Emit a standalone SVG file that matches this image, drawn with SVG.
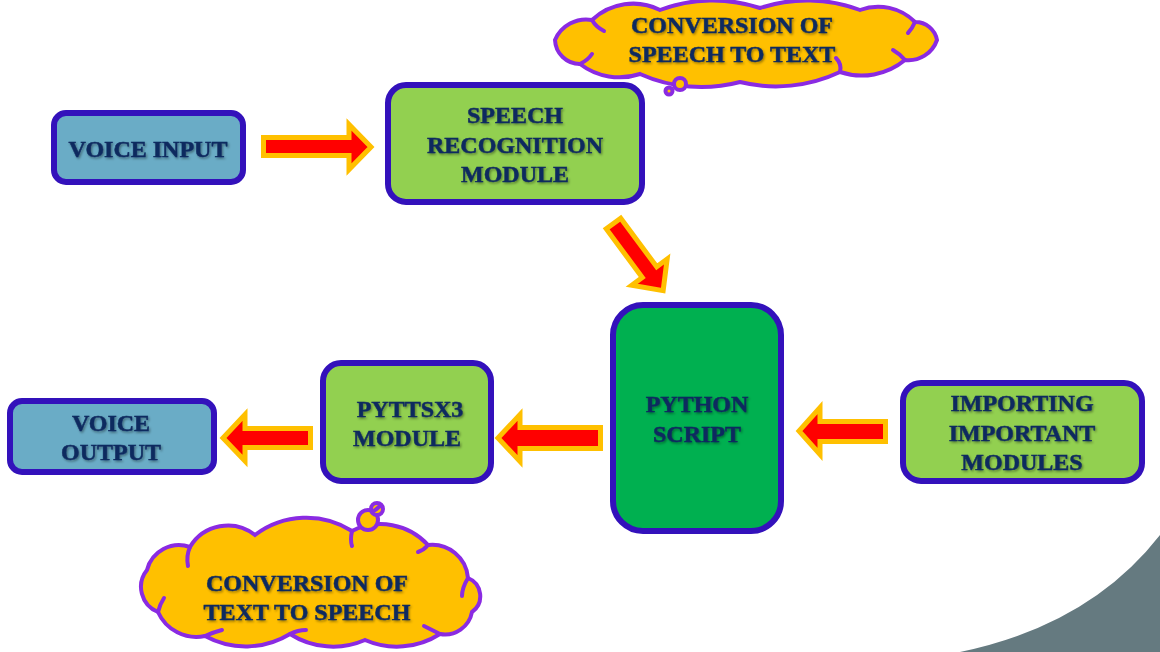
<svg xmlns="http://www.w3.org/2000/svg" width="1160" height="652" viewBox="0 0 1160 652">
  <defs>
    <filter id="ts" x="-10%" y="-30%" width="120%" height="160%">
      <feDropShadow dx="1.2" dy="1.5" stdDeviation="0.9" flood-color="#000" flood-opacity="0.4"/>
    </filter>
  </defs>
  <style>
    .node { stroke: #3311BB; stroke-width: 6; }
    .blue { fill: #6AACC6; }
    .lgreen { fill: #92D050; }
    .green { fill: #00B050; }
    .lbl { font-family: "Liberation Serif", "Times New Roman", serif; font-weight: bold; font-size: 24px; fill: #0E2A5F; stroke: #0E2A5F; stroke-width: 0.5; text-anchor: middle; filter: url(#ts); }
    .arrow { fill: #FF0000; stroke: #FFC000; stroke-width: 5; stroke-linejoin: miter; }
    .cloud { fill: #FFC000; stroke: #8A2BE2; stroke-width: 4; }
    .inner { fill: none; stroke: #8A2BE2; stroke-width: 4; stroke-linecap: round; }
  </style>

  <rect width="1160" height="652" fill="#FFFFFF"/>
  <path d="M960,652 Q1090,625 1160,535 L1160,652 Z" fill="#657A80"/>

  <g id="cloud-top">
    <path class="cloud" d="M555,40 A34,34 0 0 1 592,20 A60,60 0 0 1 660,10 A150,150 0 0 1 760,8 A150,150 0 0 1 860,10 A52,52 0 0 1 915,22 A22,22 0 0 1 937,40 A30,30 0 0 1 905,60 A68,68 0 0 1 840,72 A150,150 0 0 1 740,82 A150,150 0 0 1 640,74 A65,65 0 0 1 580,64 A25,25 0 0 1 555,40 Z"/>
    <path class="inner" d="M592,20 Q596,27 604,31"/>
    <path class="inner" d="M580,64 Q588,60 592,54"/>
    <path class="inner" d="M905,60 Q900,54 893,50"/>
    <path class="inner" d="M840,72 Q842,64 836,58"/>
    <path class="inner" d="M915,22 Q912,29 908,33"/>
    <circle class="cloud" cx="680" cy="84" r="6"/>
    <circle class="cloud" cx="669" cy="91" r="3.5"/>
    <text class="lbl" x="732" y="33">CONVERSION OF</text>
    <text class="lbl" x="732" y="62">SPEECH TO TEXT</text>
  </g>

  <g id="cloud-bottom">
    <path class="cloud" d="M147,570 A33,33 0 0 1 190,547 A44,44 0 0 1 255,535 A85,85 0 0 1 352,531 A64,64 0 0 1 428,545 A36,36 0 0 1 468,578 A19.5,19.5 0 0 1 472,612 A27.5,27.5 0 0 1 440,634 A80,80 0 0 1 365,640 A80,80 0 0 1 290,634 A85,85 0 0 1 205,636 A42,42 0 0 1 158,612 A27,27 0 0 1 147,570 Z"/>
    <path class="inner" d="M190,547 Q186,556 188,566"/>
    <path class="inner" d="M352,531 Q350,540 352,546"/>
    <path class="inner" d="M428,545 Q424,550 418,552"/>
    <path class="inner" d="M468,578 Q462,588 462,596"/>
    <path class="inner" d="M440,634 Q432,630 424,626"/>
    <path class="inner" d="M290,634 Q298,630 306,630"/>
    <path class="inner" d="M205,636 Q214,632 222,630"/>
    <path class="inner" d="M158,612 Q160,604 164,598"/>
    <circle class="cloud" cx="368" cy="520" r="10"/>
    <circle class="cloud" cx="377" cy="509" r="6"/>
    <path class="inner" d="M372,512 Q376,510 380,506" stroke-width="2"/>
    <text class="lbl" x="307" y="591">CONVERSION OF</text>
    <text class="lbl" x="307" y="620">TEXT TO SPEECH</text>
  </g>

  <g id="connectors">
    <polygon class="arrow" points="263.5,137.5 349,137.5 349,124.5 371,147 349,169.5 349,155.5 263.5,155.5"/>
    <polygon class="arrow" transform="translate(612,221.5) rotate(53.5)" points="2.5,-9 63,-9 63,-22 86,0 63,22 63,9 2.5,9"/>
    <polygon class="arrow" points="885.5,421.5 820,421.5 820,407.5 799,431 820,454.5 820,441.5 885.5,441.5"/>
    <polygon class="arrow" points="600.5,427.5 520,427.5 520,414.5 498,438 520,461.5 520,448.5 600.5,448.5"/>
    <polygon class="arrow" points="310.5,428.5 245,428.5 245,414.5 223,438 245,461 245,447.5 310.5,447.5"/>
  </g>

  <g id="voice-input">
    <rect class="node blue" x="54" y="113" width="189" height="69" rx="12"/>
    <text class="lbl" x="148" y="157">VOICE INPUT</text>
  </g>

  <g id="speech-recognition">
    <rect class="node lgreen" x="388" y="85" width="254" height="117" rx="18"/>
    <text class="lbl" x="515" y="123">SPEECH</text>
    <text class="lbl" x="515" y="153">RECOGNITION</text>
    <text class="lbl" x="515" y="182">MODULE</text>
  </g>

  <g id="python-script">
    <rect class="node green" x="613" y="305" width="168" height="226" rx="30"/>
    <text class="lbl" x="697" y="412">PYTHON</text>
    <text class="lbl" x="697" y="442">SCRIPT</text>
  </g>

  <g id="importing-modules">
    <rect class="node lgreen" x="903" y="383" width="239" height="98" rx="18"/>
    <text class="lbl" x="1022" y="411">IMPORTING</text>
    <text class="lbl" x="1022" y="441">IMPORTANT</text>
    <text class="lbl" x="1022" y="470">MODULES</text>
  </g>

  <g id="pyttsx3-module">
    <rect class="node lgreen" x="323" y="363" width="168" height="118" rx="18"/>
    <text class="lbl" x="410" y="417">PYTTSX3</text>
    <text class="lbl" x="407" y="446">MODULE</text>
  </g>

  <g id="voice-output">
    <rect class="node blue" x="10" y="401" width="204" height="71" rx="12"/>
    <text class="lbl" x="111" y="431">VOICE</text>
    <text class="lbl" x="111" y="460">OUTPUT</text>
  </g>
</svg>
